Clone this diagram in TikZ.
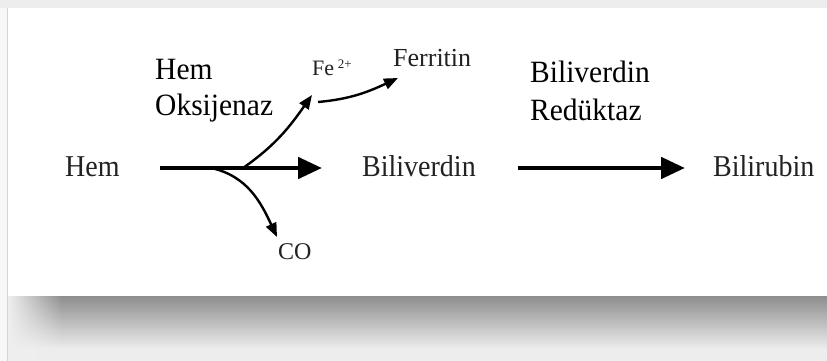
\documentclass[tikz,border=0pt]{standalone}
\usepackage{fontspec}
\setmainfont{Liberation Serif}
\usetikzlibrary{arrows.meta,fadings}
\definecolor{bgc}{HTML}{EDEDED}
\definecolor{txt}{HTML}{222222}
\definecolor{shd}{HTML}{8E8E8E}
\definecolor{shdlow}{HTML}{EFEFEF}
\definecolor{leftstrip}{HTML}{F7F7F7}
\definecolor{edge}{HTML}{D6D6D6}
\begin{document}
\begin{tikzpicture}[x=1pt,y=1pt,
  lbl/.style={inner sep=0pt, anchor=base west, text=txt, font=\fontsize{28}{30}\selectfont},
  enz/.style={inner sep=0pt, anchor=base west, text=black, font=\fontsize{29.5}{32}\selectfont},
  bigarrow/.style={line width=4.8pt, -{Triangle[length=24pt,width=21pt]}},
  thinarrow/.style={line width=2.4pt, -{Triangle[length=14pt,width=11pt]}}]
\useasboundingbox (0,0) rectangle (827,361);
% background and shadow
\fill[bgc] (0,0) rectangle (827,361);
\fill[leftstrip] (0,0) rectangle (7,353);
\draw[edge, line width=1pt] (7.5,0) -- (7.5,353);
\fill[white] (8,65) rectangle (827,353);
\shade[top color=shd, bottom color=shdlow] (8,11) rectangle (827,64.5);
\fill[shdlow, path fading=east] (8,0) rectangle (62,65);
% text nodes
\node[lbl] (hem) at (65,184.5) {\scalebox{1}[1.08]{Hem}};
\node[lbl] (bv) at (362,184.5) {\scalebox{1}[1.08]{Biliverdin}};
\node[lbl] (br) at (713,184.5) {\scalebox{1}[1.08]{Bilirubin}};
\node[enz] (ho1) at (155,281) {\scalebox{1}[1.05]{Hem}};
\node[enz] (ho2) at (155,245) {\scalebox{1}[1.05]{Oksijenaz}};
\node[enz] (red1) at (530,278) {\scalebox{1}[1.05]{Biliverdin}};
\node[enz] (red2) at (530,240) {\scalebox{1}[1.05]{Redüktaz}};
\node[lbl, font=\fontsize{26}{28}\selectfont] (fer) at (393,294) {Ferritin};
\node[lbl, font=\fontsize{22}{24}\selectfont] (fe) at (312,285) {Fe\,\raisebox{7pt}{\fontsize{13}{13}\selectfont 2+}};
\node[lbl, font=\fontsize{24}{26}\selectfont] (co) at (278,101) {CO};
% connectors
\coordinate (j1) at (243,193);
\coordinate (j2) at (211,193);
\draw[bigarrow, shorten <=40pt, shorten >=40pt] ([yshift=8.5pt]hem.base east) -- ([yshift=8.5pt]bv.base west);
\draw[bigarrow, shorten <=42pt, shorten >=28pt] ([yshift=8.5pt]bv.base east) -- ([yshift=8.5pt]br.base west);
\draw[thinarrow] (j1) to[out=35,in=235] ([shift={(0,-19)}]fe.base west);
\draw[thinarrow] (j2) to[out=-12,in=115] ([shift={(-1,23)}]co.base west);
\draw[thinarrow] ([shift={(6,-26)}]fe.base west) to[out=5,in=205] ([shift={(5,-11)}]fer.base west);
\end{tikzpicture}
\end{document}
